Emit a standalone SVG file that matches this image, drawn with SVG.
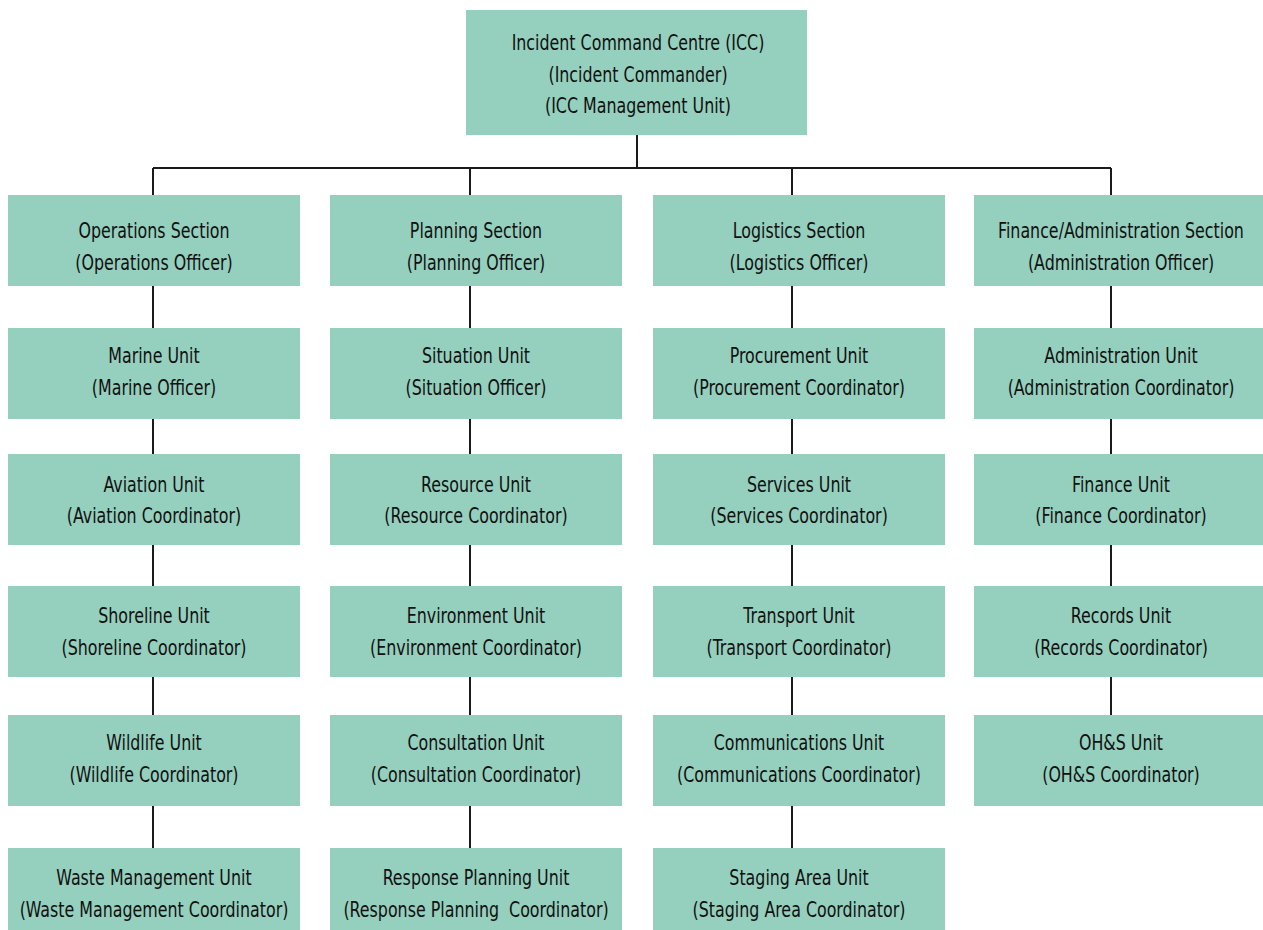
<svg xmlns="http://www.w3.org/2000/svg" width="1263" height="930" viewBox="0 0 1263 930">
<style>
.box{fill:#95cfbd}
.t{font-family:"DejaVu Sans Condensed","Liberation Sans",sans-serif;font-size:21px;fill:#111;text-anchor:middle}
.c{stroke:#1a1a1a;stroke-width:2;fill:none}
</style>
<rect width="1263" height="930" fill="#fff"/>
<g id="connectors">
<path class="c" d="M637 135V168M153 168H1111M153 168V195M470 168V195M792 168V195M1111 168V195"/>
<path class="c" d="M153 286V328M153 419V454M153 545V586M153 677V715M153 806V848"/>
<path class="c" d="M470 286V328M470 419V454M470 545V586M470 677V715M470 806V848"/>
<path class="c" d="M792 286V328M792 419V454M792 545V586M792 677V715M792 806V848"/>
<path class="c" d="M1111 286V328M1111 419V454M1111 545V586M1111 677V715"/>
</g>
<g id="icc"><rect class="box" x="466" y="10" width="341" height="125"/><g transform="translate(638 0) scale(0.84 1)"><text class="t" x="0" y="50">Incident Command Centre (ICC)</text><text class="t" x="0" y="82">(Incident Commander)</text><text class="t" x="0" y="113">(ICC Management Unit)</text></g></g>

<g id="operations"><rect class="box" x="8" y="195" width="292" height="91"/><g transform="translate(154 0) scale(0.84 1)"><text class="t" x="0" y="238">Operations Section</text><text class="t" x="0" y="270">(Operations Officer)</text></g></g>
<g id="marine"><rect class="box" x="8" y="328" width="292" height="91"/><g transform="translate(154 0) scale(0.84 1)"><text class="t" x="0" y="363">Marine Unit</text><text class="t" x="0" y="395">(Marine Officer)</text></g></g>
<g id="aviation"><rect class="box" x="8" y="454" width="292" height="91"/><g transform="translate(154 0) scale(0.84 1)"><text class="t" x="0" y="492">Aviation Unit</text><text class="t" x="0" y="523">(Aviation Coordinator)</text></g></g>
<g id="shoreline"><rect class="box" x="8" y="586" width="292" height="91"/><g transform="translate(154 0) scale(0.84 1)"><text class="t" x="0" y="623">Shoreline Unit</text><text class="t" x="0" y="655">(Shoreline Coordinator)</text></g></g>
<g id="wildlife"><rect class="box" x="8" y="715" width="292" height="91"/><g transform="translate(154 0) scale(0.84 1)"><text class="t" x="0" y="750">Wildlife Unit</text><text class="t" x="0" y="782">(Wildlife Coordinator)</text></g></g>
<g id="waste"><rect class="box" x="8" y="848" width="292" height="91"/><g transform="translate(154 0) scale(0.84 1)"><text class="t" x="0" y="885">Waste Management Unit</text><text class="t" x="0" y="917">(Waste Management Coordinator)</text></g></g>

<g id="planning"><rect class="box" x="330" y="195" width="292" height="91"/><g transform="translate(476 0) scale(0.84 1)"><text class="t" x="0" y="238">Planning Section</text><text class="t" x="0" y="270">(Planning Officer)</text></g></g>
<g id="situation"><rect class="box" x="330" y="328" width="292" height="91"/><g transform="translate(476 0) scale(0.84 1)"><text class="t" x="0" y="363">Situation Unit</text><text class="t" x="0" y="395">(Situation Officer)</text></g></g>
<g id="resource"><rect class="box" x="330" y="454" width="292" height="91"/><g transform="translate(476 0) scale(0.84 1)"><text class="t" x="0" y="492">Resource Unit</text><text class="t" x="0" y="523">(Resource Coordinator)</text></g></g>
<g id="environment"><rect class="box" x="330" y="586" width="292" height="91"/><g transform="translate(476 0) scale(0.84 1)"><text class="t" x="0" y="623">Environment Unit</text><text class="t" x="0" y="655">(Environment Coordinator)</text></g></g>
<g id="consultation"><rect class="box" x="330" y="715" width="292" height="91"/><g transform="translate(476 0) scale(0.84 1)"><text class="t" x="0" y="750">Consultation Unit</text><text class="t" x="0" y="782">(Consultation Coordinator)</text></g></g>
<g id="response"><rect class="box" x="330" y="848" width="292" height="91"/><g transform="translate(476 0) scale(0.84 1)"><text class="t" x="0" y="885">Response Planning Unit</text><text class="t" x="0" y="917" xml:space="preserve">(Response Planning  Coordinator)</text></g></g>

<g id="logistics"><rect class="box" x="653" y="195" width="292" height="91"/><g transform="translate(799 0) scale(0.84 1)"><text class="t" x="0" y="238">Logistics Section</text><text class="t" x="0" y="270">(Logistics Officer)</text></g></g>
<g id="procurement"><rect class="box" x="653" y="328" width="292" height="91"/><g transform="translate(799 0) scale(0.84 1)"><text class="t" x="0" y="363">Procurement Unit</text><text class="t" x="0" y="395">(Procurement Coordinator)</text></g></g>
<g id="services"><rect class="box" x="653" y="454" width="292" height="91"/><g transform="translate(799 0) scale(0.84 1)"><text class="t" x="0" y="492">Services Unit</text><text class="t" x="0" y="523">(Services Coordinator)</text></g></g>
<g id="transport"><rect class="box" x="653" y="586" width="292" height="91"/><g transform="translate(799 0) scale(0.84 1)"><text class="t" x="0" y="623">Transport Unit</text><text class="t" x="0" y="655">(Transport Coordinator)</text></g></g>
<g id="communications"><rect class="box" x="653" y="715" width="292" height="91"/><g transform="translate(799 0) scale(0.84 1)"><text class="t" x="0" y="750">Communications Unit</text><text class="t" x="0" y="782">(Communications Coordinator)</text></g></g>
<g id="staging"><rect class="box" x="653" y="848" width="292" height="91"/><g transform="translate(799 0) scale(0.84 1)"><text class="t" x="0" y="885">Staging Area Unit</text><text class="t" x="0" y="917">(Staging Area Coordinator)</text></g></g>

<g id="finance-admin"><rect class="box" x="974" y="195" width="294" height="91"/><g transform="translate(1121 0) scale(0.84 1)"><text class="t" x="0" y="238">Finance/Administration Section</text><text class="t" x="0" y="270">(Administration Officer)</text></g></g>
<g id="administration"><rect class="box" x="974" y="328" width="294" height="91"/><g transform="translate(1121 0) scale(0.84 1)"><text class="t" x="0" y="363">Administration Unit</text><text class="t" x="0" y="395">(Administration Coordinator)</text></g></g>
<g id="finance"><rect class="box" x="974" y="454" width="294" height="91"/><g transform="translate(1121 0) scale(0.84 1)"><text class="t" x="0" y="492">Finance Unit</text><text class="t" x="0" y="523">(Finance Coordinator)</text></g></g>
<g id="records"><rect class="box" x="974" y="586" width="294" height="91"/><g transform="translate(1121 0) scale(0.84 1)"><text class="t" x="0" y="623">Records Unit</text><text class="t" x="0" y="655">(Records Coordinator)</text></g></g>
<g id="ohs"><rect class="box" x="974" y="715" width="294" height="91"/><g transform="translate(1121 0) scale(0.84 1)"><text class="t" x="0" y="750">OH&amp;S Unit</text><text class="t" x="0" y="782">(OH&amp;S Coordinator)</text></g></g>
</svg>
